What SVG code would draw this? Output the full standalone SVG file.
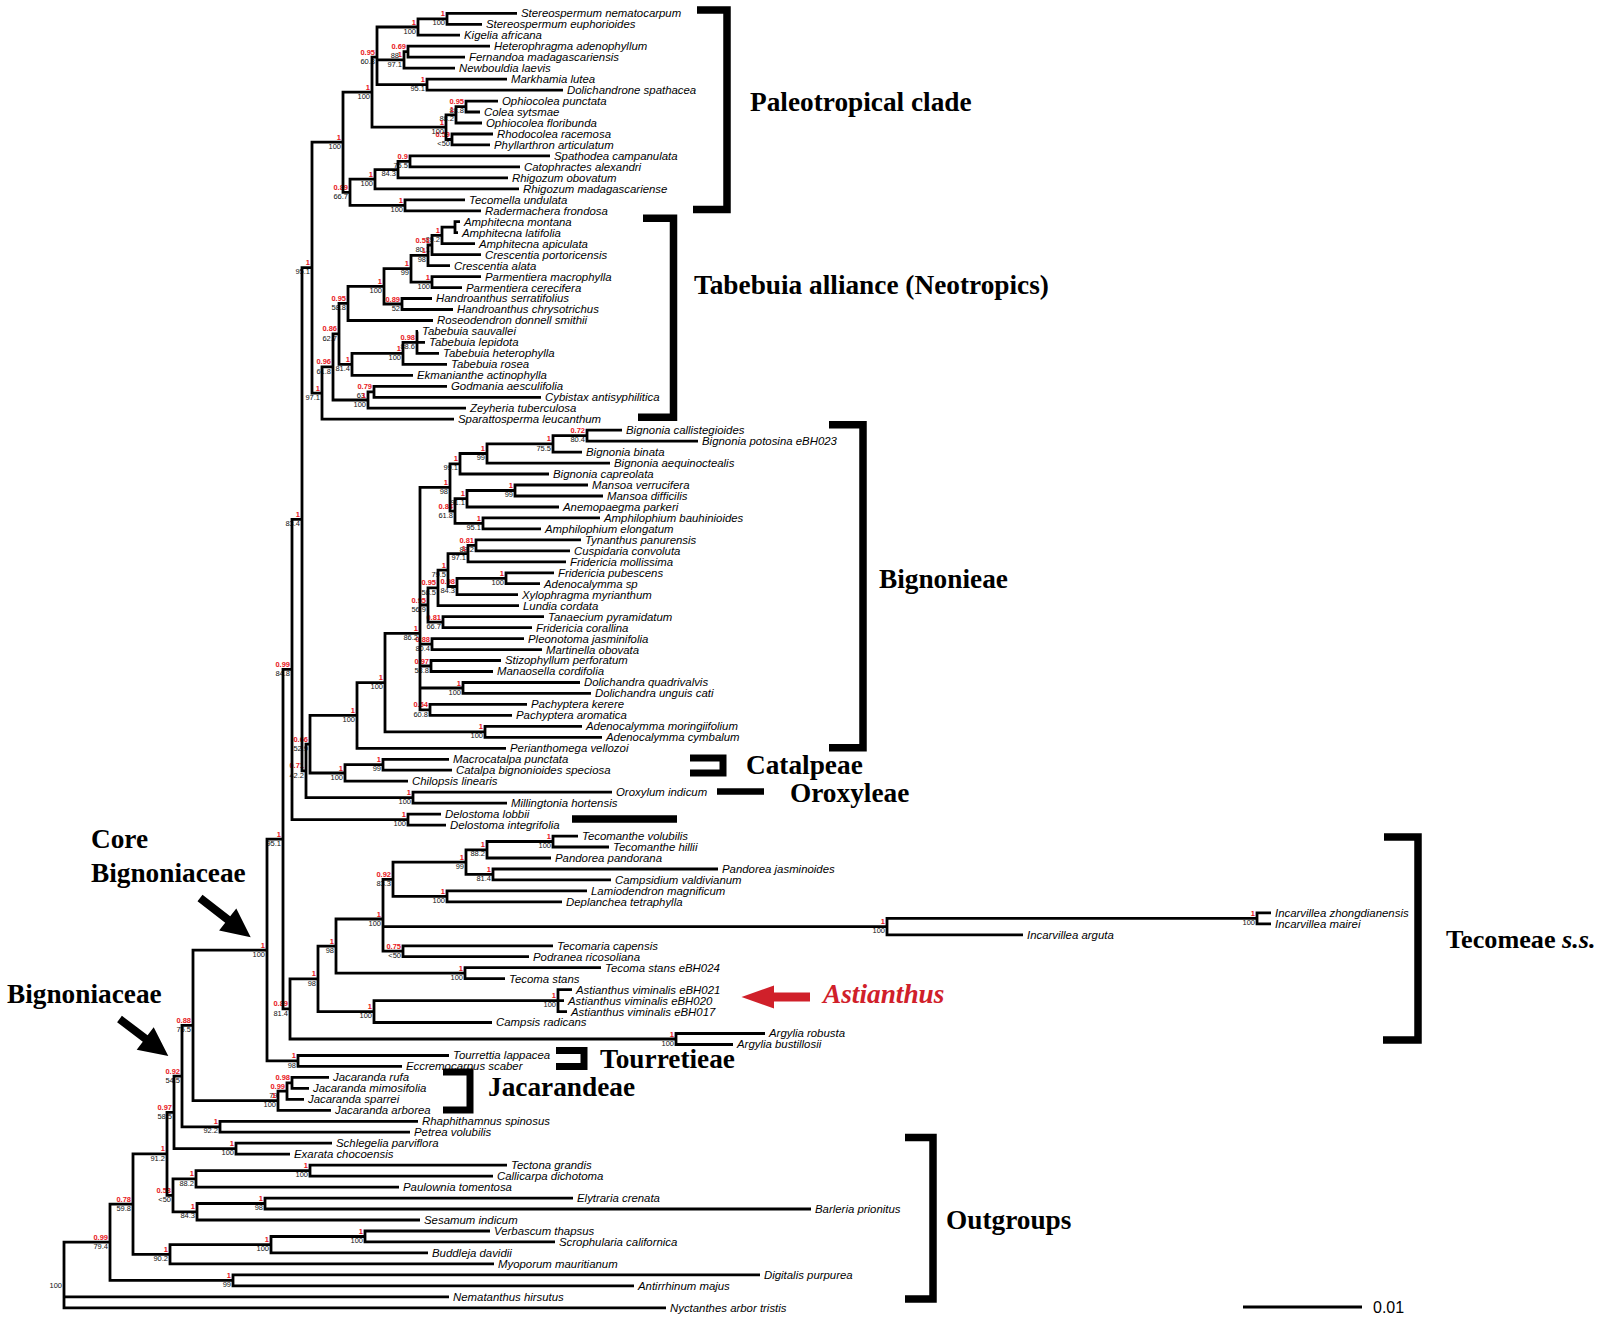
<svg xmlns="http://www.w3.org/2000/svg" width="1600" height="1324" viewBox="0 0 1600 1324">
<style>
.lf{font-family:"Liberation Sans",Arial,sans-serif;font-style:italic;font-size:11.4px;fill:#000}
.r{font-family:"Liberation Sans",Arial,sans-serif;font-weight:bold;font-size:7.5px;fill:#e8161c;text-anchor:end}
.k{font-family:"Liberation Sans",Arial,sans-serif;font-size:7.5px;fill:#111;text-anchor:end}
.cl{font-family:"Liberation Serif","Times New Roman",serif;font-weight:bold;font-size:27.3px;fill:#000}
.tr{fill:none;stroke:#000;stroke-width:2.8;stroke-linejoin:miter}
.br{fill:none;stroke:#000;stroke-width:7.5;stroke-linejoin:miter}
</style>
<rect x="0" y="0" width="1600" height="1324" fill="#fff"/>
<g id="support-values" transform="translate(-0.5,-0.6)">
<g id="n1"><text class="r" x="445.5" y="17">1</text><text class="k" x="445.5" y="26.1">100</text></g>
<g id="n2"><text class="r" x="416.5" y="25.2">1</text><text class="k" x="416.5" y="34.3">100</text></g>
<g id="n3"><text class="r" x="406.5" y="49.9">0.69</text><text class="k" x="399.5" y="59">88</text></g>
<g id="n4"><text class="r" x="402.5" y="58.1">1</text><text class="k" x="402.5" y="67.2">97.1</text></g>
<g id="n5"><text class="r" x="425.5" y="82.8">1</text><text class="k" x="425.5" y="91.9">95.1</text></g>
<g id="n6"><text class="r" x="375.5" y="55.4">0.95</text><text class="k" x="375.5" y="64.5">60.8</text></g>
<g id="n7"><text class="r" x="464.5" y="104.8">0.95</text><text class="k" x="464.5" y="113.9">88.8</text></g>
<g id="n8"><text class="r" x="454.5" y="113">1</text><text class="k" x="454.5" y="122.1">88.2</text></g>
<g id="n9"><text class="r" x="450.5" y="137.7">0.59</text><text class="k" x="450.5" y="146.8">&lt;50</text></g>
<g id="n10"><text class="r" x="444.5" y="125.3">1</text><text class="k" x="444.5" y="134.4">100</text></g>
<g id="n11"><text class="r" x="370.5" y="90.3">1</text><text class="k" x="370.5" y="99.4">100</text></g>
<g id="n12"><text class="r" x="408.5" y="159.6">0.9</text><text class="k" x="408.5" y="168.7">75.5</text></g>
<g id="n13"><text class="k" x="396.5" y="176.9">84.3</text></g>
<g id="n14"><text class="r" x="373.5" y="177.4">1</text><text class="k" x="373.5" y="186.5">100</text></g>
<g id="n15"><text class="r" x="403.5" y="203.5">1</text><text class="k" x="403.5" y="212.6">100</text></g>
<g id="n16"><text class="r" x="348.5" y="190.5">0.89</text><text class="k" x="348.5" y="199.6">66.7</text></g>
<g id="n17"><text class="r" x="341.5" y="140.4">1</text><text class="k" x="341.5" y="149.5">100</text></g>
<g id="t2"><text class="r" x="440.5" y="233.6">1</text><text class="k" x="440.5" y="242.7">89.2</text></g>
<g id="t3"><text class="r" x="430.5" y="243.2">0.51</text><text class="k" x="430.5" y="252.3">80.1</text></g>
<g id="t4"><text class="r" x="426.5" y="253.5">1</text><text class="k" x="426.5" y="262.6">98</text></g>
<g id="t5"><text class="r" x="430.5" y="280.3">1</text><text class="k" x="430.5" y="289.4">100</text></g>
<g id="t6"><text class="r" x="409.5" y="266.9">1</text><text class="k" x="409.5" y="276">99</text></g>
<g id="t7"><text class="r" x="400.5" y="302.2">0.89</text><text class="k" x="400.5" y="311.3">52</text></g>
<g id="t8"><text class="r" x="382.5" y="284.6">1</text><text class="k" x="382.5" y="293.7">100</text></g>
<g id="t9"><text class="r" x="346.5" y="301.6">0.95</text><text class="k" x="346.5" y="310.7">58.8</text></g>
<g id="t10"><text class="r" x="415.5" y="340.6">0.98</text><text class="k" x="415.5" y="349.7">88.6</text></g>
<g id="t11"><text class="r" x="401.5" y="351.6">1</text><text class="k" x="401.5" y="360.7">100</text></g>
<g id="t12"><text class="r" x="350.5" y="362.5">1</text><text class="k" x="350.5" y="371.6">81.4</text></g>
<g id="t13"><text class="r" x="337.5" y="332.1">0.86</text><text class="k" x="337.5" y="341.2">62.7</text></g>
<g id="t14"><text class="r" x="372.5" y="390">0.79</text><text class="k" x="365.5" y="399.1">63</text></g>
<g id="t15"><text class="r" x="366.5" y="398.2">1</text><text class="k" x="366.5" y="407.3">100</text></g>
<g id="t16"><text class="r" x="331.5" y="365.1">0.96</text><text class="k" x="331.5" y="374.2">61.8</text></g>
<g id="t17"><text class="r" x="320.5" y="391.3">1</text><text class="k" x="320.5" y="400.4">97.1</text></g>
<g id="s1"><text class="r" x="310.5" y="265.8">1</text><text class="k" x="310.5" y="274.9">95.1</text></g>
<g id="b1"><text class="r" x="585.5" y="433.8">0.72</text><text class="k" x="585.5" y="442.9">80.4</text></g>
<g id="b2"><text class="r" x="551.5" y="442.1">1</text><text class="k" x="551.5" y="451.2">75.5</text></g>
<g id="b3"><text class="r" x="485.5" y="451.7">1</text><text class="k" x="485.5" y="460.8">99</text></g>
<g id="b4"><text class="r" x="458.5" y="462">1</text><text class="k" x="458.5" y="471.1">99.1</text></g>
<g id="b5"><text class="r" x="513.5" y="488.7">1</text><text class="k" x="513.5" y="497.8">99</text></g>
<g id="b6"><text class="r" x="465.5" y="496.9">1</text><text class="k" x="465.5" y="506">91.1</text></g>
<g id="b7"><text class="r" x="481.5" y="521.6">1</text><text class="k" x="481.5" y="530.7">95.1</text></g>
<g id="b8"><text class="r" x="453.5" y="509.3">0.84</text><text class="k" x="453.5" y="518.4">61.8</text></g>
<g id="b9"><text class="r" x="448.5" y="485.6">1</text><text class="k" x="448.5" y="494.7">98</text></g>
<g id="b10"><text class="r" x="474.5" y="543.6">0.81</text><text class="k" x="474.5" y="552.7">88.2</text></g>
<g id="b11"><text class="r" x="466.5" y="551.8">1</text><text class="k" x="466.5" y="560.9">97.1</text></g>
<g id="b12"><text class="r" x="504.5" y="576.5">1</text><text class="k" x="504.5" y="585.6">100</text></g>
<g id="b13"><text class="r" x="455.5" y="584.7">0.98</text><text class="k" x="455.5" y="593.8">84.3</text></g>
<g id="b14"><text class="r" x="446.5" y="568.3">1</text><text class="k" x="446.5" y="577.4">79.5</text></g>
<g id="b15"><text class="r" x="436.5" y="586.1">0.95</text><text class="k" x="436.5" y="595.2">58.5</text></g>
<g id="b16"><text class="r" x="441.5" y="620.3">0.81</text><text class="k" x="441.5" y="629.4">66.7</text></g>
<g id="b17"><text class="r" x="426.5" y="603.2">0.95</text><text class="k" x="426.5" y="612.3">56.9</text></g>
<g id="b18"><text class="r" x="430.5" y="642.3">0.88</text><text class="k" x="430.5" y="651.4">80.4</text></g>
<g id="b19"><text class="r" x="429.5" y="664.2">0.97</text><text class="k" x="429.5" y="673.3">58.8</text></g>
<g id="b20"><text class="r" x="461.5" y="686.2">1</text><text class="k" x="461.5" y="695.3">100</text></g>
<g id="b21"><text class="r" x="428.5" y="708.1">0.64</text><text class="k" x="428.5" y="717.2">60.8</text></g>
<g id="b22"><text class="r" x="418.5" y="631.6">1</text><text class="k" x="418.5" y="640.7">86.2</text></g>
<g id="b23"><text class="r" x="483.5" y="730">1</text><text class="k" x="483.5" y="739.1">100</text></g>
<g id="b24"><text class="r" x="383.5" y="680.8">1</text><text class="k" x="383.5" y="689.9">100</text></g>
<g id="b25"><text class="r" x="355.5" y="713.6">1</text><text class="k" x="355.5" y="722.7">100</text></g>
<g id="c1"><text class="r" x="381.5" y="762.9">1</text><text class="k" x="381.5" y="772">99</text></g>
<g id="c2"><text class="r" x="343.5" y="771.2">1</text><text class="k" x="343.5" y="780.3">100</text></g>
<g id="b26"><text class="r" x="308.5" y="742.4">0.66</text><text class="k" x="308.5" y="751.5">52.9</text></g>
<g id="o1"><text class="r" x="411.5" y="795.9">1</text><text class="k" x="411.5" y="805">100</text></g>
<g id="b27"><text class="r" x="304.5" y="769.1">0.71</text><text class="k" x="304.5" y="778.2">42.2</text></g>
<g id="s2"><text class="r" x="300.5" y="517.5">1</text><text class="k" x="300.5" y="526.6">83.4</text></g>
<g id="d1"><text class="r" x="406.5" y="817.8">1</text><text class="k" x="406.5" y="826.9">100</text></g>
<g id="s3"><text class="r" x="290.5" y="667.6">0.99</text><text class="k" x="290.5" y="676.7">84.8</text></g>
<g id="e1"><text class="r" x="551.5" y="839.7">1</text><text class="k" x="551.5" y="848.8">100</text></g>
<g id="e2"><text class="r" x="485.5" y="848">1</text><text class="k" x="485.5" y="857.1">88.2</text></g>
<g id="e3"><text class="r" x="491.5" y="872.6">1</text><text class="k" x="491.5" y="881.7">81.4</text></g>
<g id="e4"><text class="r" x="464.5" y="860.3">1</text><text class="k" x="464.5" y="869.4">99</text></g>
<g id="e5"><text class="r" x="445.5" y="894.6">1</text><text class="k" x="445.5" y="903.7">100</text></g>
<g id="e6"><text class="r" x="391.5" y="877.5">0.92</text><text class="k" x="391.5" y="886.6">83.3</text></g>
<g id="i1"><text class="r" x="1255.5" y="916.5">1</text><text class="k" x="1255.5" y="925.6">100</text></g>
<g id="i2"><text class="r" x="885.5" y="924.8">1</text><text class="k" x="885.5" y="933.9">100</text></g>
<g id="e7"><text class="r" x="401.5" y="949.4">0.75</text><text class="k" x="401.5" y="958.5">&lt;50</text></g>
<g id="e8"><text class="r" x="381.5" y="917.2">1</text><text class="k" x="381.5" y="926.3">100</text></g>
<g id="e9"><text class="r" x="463.5" y="971.4">1</text><text class="k" x="463.5" y="980.5">100</text></g>
<g id="e10"><text class="r" x="334.5" y="944.3">1</text><text class="k" x="334.5" y="953.4">98</text></g>
<g id="a1"><text class="r" x="556.5" y="998.8">1</text><text class="k" x="556.5" y="1007.9">100</text></g>
<g id="e11"><text class="r" x="372.5" y="1009.8">1</text><text class="k" x="372.5" y="1018.9">100</text></g>
<g id="e12"><text class="r" x="316.5" y="977.1">1</text><text class="k" x="316.5" y="986.2">98</text></g>
<g id="g1"><text class="r" x="674.5" y="1037.2">1</text><text class="k" x="674.5" y="1046.3">100</text></g>
<g id="e13"><text class="r" x="288.5" y="1007.1">0.89</text><text class="k" x="288.5" y="1016.2">81.4</text></g>
<g id="s4"><text class="r" x="281.5" y="837.4">1</text><text class="k" x="281.5" y="846.5">95.1</text></g>
<g id="r1"><text class="r" x="296.5" y="1059.1">1</text><text class="k" x="296.5" y="1068.2">98</text></g>
<g id="s5"><text class="r" x="265.5" y="948.3">1</text><text class="k" x="265.5" y="957.4">100</text></g>
<g id="j1"><text class="r" x="290.5" y="1081.1">0.98</text></g>
<g id="j2"><text class="r" x="285.5" y="1089.3">0.99</text><text class="k" x="278" y="1098.4">79</text></g>
<g id="j3"><text class="r" x="276.5" y="1098.9">1</text><text class="k" x="276.5" y="1108">100</text></g>
<g id="s6"><text class="r" x="191.5" y="1023.6">0.88</text><text class="k" x="191.5" y="1032.7">75.5</text></g>
<g id="p1"><text class="r" x="218.5" y="1125">1</text><text class="k" x="218.5" y="1134.1">92.2</text></g>
<g id="s7"><text class="r" x="180.5" y="1074.3">0.92</text><text class="k" x="180.5" y="1083.4">54.5</text></g>
<g id="q1"><text class="r" x="234.5" y="1146.9">1</text><text class="k" x="234.5" y="1156">100</text></g>
<g id="s8"><text class="r" x="172.5" y="1110.6">0.97</text><text class="k" x="172.5" y="1119.7">58.5</text></g>
<g id="u1"><text class="r" x="308.5" y="1168.8">1</text><text class="k" x="308.5" y="1177.9">100</text></g>
<g id="u2"><text class="r" x="194.5" y="1177.1">1</text><text class="k" x="194.5" y="1186.2">88.2</text></g>
<g id="u3"><text class="r" x="263.5" y="1201.7">1</text><text class="k" x="263.5" y="1210.8">98</text></g>
<g id="u4"><text class="r" x="195.5" y="1210">1</text><text class="k" x="195.5" y="1219.1">84.3</text></g>
<g id="u5"><text class="r" x="171.5" y="1193.5">0.53</text><text class="k" x="171.5" y="1202.6">&lt;50</text></g>
<g id="s9"><text class="r" x="165.5" y="1152.1">1</text><text class="k" x="165.5" y="1161.2">91.2</text></g>
<g id="v1"><text class="r" x="363.5" y="1234.7">1</text><text class="k" x="363.5" y="1243.8">100</text></g>
<g id="v2"><text class="r" x="269.5" y="1242.9">1</text><text class="k" x="269.5" y="1252">100</text></g>
<g id="v3"><text class="r" x="168.5" y="1252.5">1</text><text class="k" x="168.5" y="1261.6">90.2</text></g>
<g id="s10"><text class="r" x="131.5" y="1202.3">0.78</text><text class="k" x="131.5" y="1211.4">59.8</text></g>
<g id="w1"><text class="r" x="231.5" y="1278.5">1</text><text class="k" x="231.5" y="1287.6">99</text></g>
<g id="s11"><text class="r" x="108.5" y="1240.4">0.99</text><text class="k" x="108.5" y="1249.5">79.4</text></g>
<g id="root"><text class="k" x="62.5" y="1288.4">100</text></g>
</g>
<g id="connectors" class="tr">
<path d="M517,13.3H447V24.3H482M447,18.8H418V35.2H460M490,46.2H408V57.2H465M408,51.7H404V68.2H455M507,79.1H427V90.1H563M418,27H377V84.6H427M377,59.9H404"/>
<path d="M498,101.1H466V112H480M466,106.6H456V123H482M493,134H452V144.9H490M456,114.8H446V139.5H452M377,57.2H372V127.1H446"/>
<path d="M550,155.9H410V166.9H520M410,161.4H398V177.9H508M398,169.6H375V188.8H519M465,199.8H405V210.8H481M375,179.2H350V205.3H405M372,92.1H343V192.3H350"/>
<path d="M460,221.7H455V232.7H458M455,227.2H442V243.7H475M442,235.4H432V254.6H481M432,245H428V265.6H450M481,276.6H432V287.6H462M428,255.3H411V282.1H432M432,298.5H402V309.5H453M411,268.7H384V304H402M384,286.4H348V320.5H433"/>
<path d="M418,331.4H417V353.4H439M417,342.4H425M417,342.4H403V364.3H447M403,353.4H352V375.3H413M348,303.4H339V364.3H352M447,386.3H374V397.3H541M374,391.8H368V408.2H466M339,333.9H333V400H368M333,366.9H322V419.2H454M343,142.2H312V393.1H322"/>
<path d="M622,430.2H587V441.1H698M587,435.6H553V452.1H582M553,443.9H487V463.1H610M487,453.5H460V474H549M588,485H515V496H603M515,490.5H467V507H559M600,517.9H483V528.9H541M467,498.7H455V523.4H483M460,463.8H450V511.1H455"/>
<path d="M581,539.9H476V550.8H570M476,545.4H468V561.8H566M554,572.8H506V583.7H540M506,578.3H457V594.7H518M468,553.6H448V586.5H457M448,570.1H438V605.7H519M544,616.7H443V627.6H532M438,587.9H428V622.1H443"/>
<path d="M524,638.6H432V649.6H542M501,660.5H431V671.5H493M580,682.5H463V693.4H591M527,704.4H430V715.4H512M450,487.4H420V709.9H430M420,605H428M420,644.1H432M420,666H431M420,688H463"/>
<path d="M582,726.4H485V737.3H602M420,633.4H385V731.8H485M385,682.6H357V748.3H506M449,759.3H383V770.2H452M383,764.7H345V781.2H408M357,715.4H310V773H345M612,792.2H413V803.1H507M310,744.2H306V797.7H413M312,267.6H302V770.9H306M441,814.1H408V825.1H446M302,519.3H292V819.6H408"/>
<path d="M578,836.1H553V847H609M553,841.5H487V858H551M718,869H493V879.9H611M487,849.8H466V874.4H493M587,890.9H447V901.9H562M466,862.1H393V896.4H447"/>
<path d="M1271,912.8H1257V923.8H1271M1257,918.3H887V934.8H1023M553,945.8H403V956.7H529M393,879.3H383V951.2H403M383,926.6H887M601,967.7H465V978.7H505M383,919H336V973.2H465"/>
<path d="M572,989.6H558V1011.6H567M558,1000.6H564M558,1000.6H374V1022.5H492M336,946.1H318V1011.6H374M765,1033.5H676V1044.5H733M318,978.9H290V1039H676M292,669.4H283V1008.9H290M449,1055.5H298V1066.4H402M283,839.2H267V1060.9H298"/>
<path d="M329,1077.4H292V1088.4H309M292,1082.9H287V1099.3H304M287,1091.1H278V1110.3H331M267,950.1H193V1100.7H278M418,1121.3H220V1132.2H410M193,1025.4H182V1126.8H220M332,1143.2H236V1154.2H290M182,1076.1H174V1148.7H236"/>
<path d="M507,1165.2H310V1176.1H493M310,1170.6H196V1187.1H399M573,1198.1H265V1209H811M265,1203.5H197V1220H420M196,1178.9H173V1211.8H197M174,1112.4H167V1195.3H173"/>
<path d="M490,1231H365V1241.9H555M365,1236.5H271V1252.9H428M271,1244.7H170V1263.9H494M167,1153.9H133V1254.3H170M760,1274.9H233V1285.8H634M133,1204.1H110V1280.3H233M110,1242.2H64V1307.8H666M64,1296.8H449"/>
</g>
<g id="taxa" class="lf">
<g id="tx1"><text x="521" y="17.2">Stereospermum nematocarpum</text></g>
<g id="tx2"><text x="486" y="28.2">Stereospermum euphorioides</text></g>
<g id="tx3"><text x="464" y="39.1">Kigelia africana</text></g>
<g id="tx4"><text x="494" y="50.1">Heterophragma adenophyllum</text></g>
<g id="tx5"><text x="469" y="61.1">Fernandoa madagascariensis</text></g>
<g id="tx6"><text x="459" y="72.1">Newbouldia laevis</text></g>
<g id="tx7"><text x="511" y="83">Markhamia lutea</text></g>
<g id="tx8"><text x="567" y="94">Dolichandrone spathacea</text></g>
<g id="tx9"><text x="502" y="105">Ophiocolea punctata</text></g>
<g id="tx10"><text x="484" y="115.9">Colea sytsmae</text></g>
<g id="tx11"><text x="486" y="126.9">Ophiocolea floribunda</text></g>
<g id="tx12"><text x="497" y="137.9">Rhodocolea racemosa</text></g>
<g id="tx13"><text x="494" y="148.8">Phyllarthron articulatum</text></g>
<g id="tx14"><text x="554" y="159.8">Spathodea campanulata</text></g>
<g id="tx15"><text x="524" y="170.8">Catophractes alexandri</text></g>
<g id="tx16"><text x="512" y="181.8">Rhigozum obovatum</text></g>
<g id="tx17"><text x="523" y="192.7">Rhigozum madagascariense</text></g>
<g id="tx18"><text x="469" y="203.7">Tecomella undulata</text></g>
<g id="tx19"><text x="485" y="214.7">Radermachera frondosa</text></g>
<g id="tx20"><text x="464" y="225.6">Amphitecna montana</text></g>
<g id="tx21"><text x="462" y="236.6">Amphitecna latifolia</text></g>
<g id="tx22"><text x="479" y="247.6">Amphitecna apiculata</text></g>
<g id="tx23"><text x="485" y="258.5">Crescentia portoricensis</text></g>
<g id="tx24"><text x="454" y="269.5">Crescentia alata</text></g>
<g id="tx25"><text x="485" y="280.5">Parmentiera macrophylla</text></g>
<g id="tx26"><text x="466" y="291.5">Parmentiera cerecifera</text></g>
<g id="tx27"><text x="436" y="302.4">Handroanthus serratifolius</text></g>
<g id="tx28"><text x="457" y="313.4">Handroanthus chrysotrichus</text></g>
<g id="tx29"><text x="437" y="324.4">Roseodendron donnell smithii</text></g>
<g id="tx30"><text x="422" y="335.3">Tabebuia sauvallei</text></g>
<g id="tx31"><text x="429" y="346.3">Tabebuia lepidota</text></g>
<g id="tx32"><text x="443" y="357.3">Tabebuia heterophylla</text></g>
<g id="tx33"><text x="451" y="368.2">Tabebuia rosea</text></g>
<g id="tx34"><text x="417" y="379.2">Ekmanianthe actinophylla</text></g>
<g id="tx35"><text x="451" y="390.2">Godmania aesculifolia</text></g>
<g id="tx36"><text x="545" y="401.2">Cybistax antisyphilitica</text></g>
<g id="tx37"><text x="470" y="412.1">Zeyheria tuberculosa</text></g>
<g id="tx38"><text x="458" y="423.1">Sparattosperma leucanthum</text></g>
<g id="tx39"><text x="626" y="434.1">Bignonia callistegioides</text></g>
<g id="tx40"><text x="702" y="445">Bignonia potosina eBH023</text></g>
<g id="tx41"><text x="586" y="456">Bignonia binata</text></g>
<g id="tx42"><text x="614" y="467">Bignonia aequinoctealis</text></g>
<g id="tx43"><text x="553" y="477.9">Bignonia capreolata</text></g>
<g id="tx44"><text x="592" y="488.9">Mansoa verrucifera</text></g>
<g id="tx45"><text x="607" y="499.9">Mansoa difficilis</text></g>
<g id="tx46"><text x="563" y="510.9">Anemopaegma parkeri</text></g>
<g id="tx47"><text x="604" y="521.8">Amphilophium bauhinioides</text></g>
<g id="tx48"><text x="545" y="532.8">Amphilophium elongatum</text></g>
<g id="tx49"><text x="585" y="543.8">Tynanthus panurensis</text></g>
<g id="tx50"><text x="574" y="554.7">Cuspidaria convoluta</text></g>
<g id="tx51"><text x="570" y="565.7">Fridericia mollissima</text></g>
<g id="tx52"><text x="558" y="576.7">Fridericia pubescens</text></g>
<g id="tx53"><text x="544" y="587.6">Adenocalymma sp</text></g>
<g id="tx54"><text x="522" y="598.6">Xylophragma myrianthum</text></g>
<g id="tx55"><text x="523" y="609.6">Lundia cordata</text></g>
<g id="tx56"><text x="548" y="620.6">Tanaecium pyramidatum</text></g>
<g id="tx57"><text x="536" y="631.5">Fridericia corallina</text></g>
<g id="tx58"><text x="528" y="642.5">Pleonotoma jasminifolia</text></g>
<g id="tx59"><text x="546" y="653.5">Martinella obovata</text></g>
<g id="tx60"><text x="505" y="664.4">Stizophyllum perforatum</text></g>
<g id="tx61"><text x="497" y="675.4">Manaosella cordifolia</text></g>
<g id="tx62"><text x="584" y="686.4">Dolichandra quadrivalvis</text></g>
<g id="tx63"><text x="595" y="697.3">Dolichandra unguis cati</text></g>
<g id="tx64"><text x="531" y="708.3">Pachyptera kerere</text></g>
<g id="tx65"><text x="516" y="719.3">Pachyptera aromatica</text></g>
<g id="tx66"><text x="586" y="730.3">Adenocalymma moringiifolium</text></g>
<g id="tx67"><text x="606" y="741.2">Adenocalymma cymbalum</text></g>
<g id="tx68"><text x="510" y="752.2">Perianthomega vellozoi</text></g>
<g id="tx69"><text x="453" y="763.2">Macrocatalpa punctata</text></g>
<g id="tx70"><text x="456" y="774.1">Catalpa bignonioides speciosa</text></g>
<g id="tx71"><text x="412" y="785.1">Chilopsis linearis</text></g>
<g id="tx72"><text x="616" y="796.1">Oroxylum indicum</text></g>
<g id="tx73"><text x="511" y="807">Millingtonia hortensis</text></g>
<g id="tx74"><text x="445" y="818">Delostoma lobbii</text></g>
<g id="tx75"><text x="450" y="829">Delostoma integrifolia</text></g>
<g id="tx76"><text x="582" y="840">Tecomanthe volubilis</text></g>
<g id="tx77"><text x="613" y="850.9">Tecomanthe hillii</text></g>
<g id="tx78"><text x="555" y="861.9">Pandorea pandorana</text></g>
<g id="tx79"><text x="722" y="872.9">Pandorea jasminoides</text></g>
<g id="tx80"><text x="615" y="883.8">Campsidium valdivianum</text></g>
<g id="tx81"><text x="591" y="894.8">Lamiodendron magnificum</text></g>
<g id="tx82"><text x="566" y="905.8">Deplanchea tetraphylla</text></g>
<g id="tx83"><text x="1275" y="916.7">Incarvillea zhongdianensis</text></g>
<g id="tx84"><text x="1275" y="927.7">Incarvillea mairei</text></g>
<g id="tx85"><text x="1027" y="938.7">Incarvillea arguta</text></g>
<g id="tx86"><text x="557" y="949.7">Tecomaria capensis</text></g>
<g id="tx87"><text x="533" y="960.6">Podranea ricosoliana</text></g>
<g id="tx88"><text x="605" y="971.6">Tecoma stans eBH024</text></g>
<g id="tx89"><text x="509" y="982.6">Tecoma stans</text></g>
<g id="tx90"><text x="576" y="993.5">Astianthus viminalis eBH021</text></g>
<g id="tx91"><text x="568" y="1004.5">Astianthus viminalis eBH020</text></g>
<g id="tx92"><text x="571" y="1015.5">Astianthus viminalis eBH017</text></g>
<g id="tx93"><text x="496" y="1026.4">Campsis radicans</text></g>
<g id="tx94"><text x="769" y="1037.4">Argylia robusta</text></g>
<g id="tx95"><text x="737" y="1048.4">Argylia bustillosii</text></g>
<g id="tx96"><text x="453" y="1059.4">Tourrettia lappacea</text></g>
<g id="tx97"><text x="406" y="1070.3">Eccremocarpus scaber</text></g>
<g id="tx98"><text x="333" y="1081.3">Jacaranda rufa</text></g>
<g id="tx99"><text x="313" y="1092.3">Jacaranda mimosifolia</text></g>
<g id="tx100"><text x="308" y="1103.2">Jacaranda sparrei</text></g>
<g id="tx101"><text x="335" y="1114.2">Jacaranda arborea</text></g>
<g id="tx102"><text x="422" y="1125.2">Rhaphithamnus spinosus</text></g>
<g id="tx103"><text x="414" y="1136.1">Petrea volubilis</text></g>
<g id="tx104"><text x="336" y="1147.1">Schlegelia parviflora</text></g>
<g id="tx105"><text x="294" y="1158.1">Exarata chocoensis</text></g>
<g id="tx106"><text x="511" y="1169.1">Tectona grandis</text></g>
<g id="tx107"><text x="497" y="1180">Callicarpa dichotoma</text></g>
<g id="tx108"><text x="403" y="1191">Paulownia tomentosa</text></g>
<g id="tx109"><text x="577" y="1202">Elytraria crenata</text></g>
<g id="tx110"><text x="815" y="1212.9">Barleria prionitus</text></g>
<g id="tx111"><text x="424" y="1223.9">Sesamum indicum</text></g>
<g id="tx112"><text x="494" y="1234.9">Verbascum thapsus</text></g>
<g id="tx113"><text x="559" y="1245.8">Scrophularia californica</text></g>
<g id="tx114"><text x="432" y="1256.8">Buddleja davidii</text></g>
<g id="tx115"><text x="498" y="1267.8">Myoporum mauritianum</text></g>
<g id="tx116"><text x="764" y="1278.8">Digitalis purpurea</text></g>
<g id="tx117"><text x="638" y="1289.7">Antirrhinum majus</text></g>
<g id="tx118"><text x="453" y="1300.7">Nematanthus hirsutus</text></g>
<g id="tx119"><text x="670" y="1311.7">Nyctanthes arbor tristis</text></g>
</g>
<g id="clades">
<g id="paleotropical"><path class="br" d="M697,10H727V209.5H693"/><text class="cl" x="750" y="111.4">Paleotropical clade</text></g>
<g id="tabebuia"><path class="br" d="M643,218.3H673.5V417.2H638"/><text class="cl" x="694" y="293.5">Tabebuia alliance (Neotropics)</text></g>
<g id="bignonieae"><path class="br" d="M829,424.7H863V747.7H829"/><text class="cl" x="879" y="588">Bignonieae</text></g>
<g id="catalpeae"><path class="br" d="M690,758H723V773H690" style="stroke-width:7"/><text class="cl" x="746" y="774">Catalpeae</text></g>
<g id="oroxyleae"><path class="br" d="M717,791.6H764" style="stroke-width:6.5"/><text class="cl" x="790" y="802">Oroxyleae</text></g>
<g id="delostoma"><path class="br" d="M572,819H677" style="stroke-width:7.7"/></g>
<g id="tecomeae"><path class="br" d="M1384,837H1418V1040H1383"/><text class="cl" x="1446" y="948" style="font-size:26.2px">Tecomeae <tspan font-style="italic">s.s.</tspan></text></g>
<g id="astianthus"><polygon points="810,992.5 774,992.5 774,985.5 741.5,997 774,1008.5 774,1001.5 810,1001.5" fill="#d0202a"/><text class="cl" x="823" y="1003" style="font-style:italic;fill:#d0202a">Astianthus</text></g>
<g id="tourretieae"><path class="br" d="M556,1050.5H584V1066.5H556" style="stroke-width:7"/><text class="cl" x="600" y="1068">Tourretieae</text></g>
<g id="jacarandeae"><path class="br" d="M443,1072H470V1110H443" style="stroke-width:7"/><text class="cl" x="488" y="1096">Jacarandeae</text></g>
<g id="outgroups"><path class="br" d="M905,1137.5H933V1299H905"/><text class="cl" x="946" y="1229">Outgroups</text></g>
<g id="core-bignoniaceae"><text class="cl" x="91" y="848">Core</text><text class="cl" x="91" y="882">Bignoniaceae</text><polygon points="202.5,894.8 230.2,916.3 236.3,908.4 250.7,937.3 219.1,930.6 225.2,922.7 197.5,901.2" fill="#000"/></g>
<g id="bignoniaceae"><text class="cl" x="7" y="1003">Bignoniaceae</text><polygon points="121.9,1015.8 147.6,1035.3 153.7,1027.3 168.3,1056 136.7,1049.7 142.8,1041.7 117.1,1022.2" fill="#000"/></g>
</g>
<g id="scale-bar"><path d="M1243,1307H1362" stroke="#000" stroke-width="2.8"/><text x="1373" y="1313" style="font-family:'Liberation Sans',Arial,sans-serif;font-size:16px">0.01</text></g>
</svg>
